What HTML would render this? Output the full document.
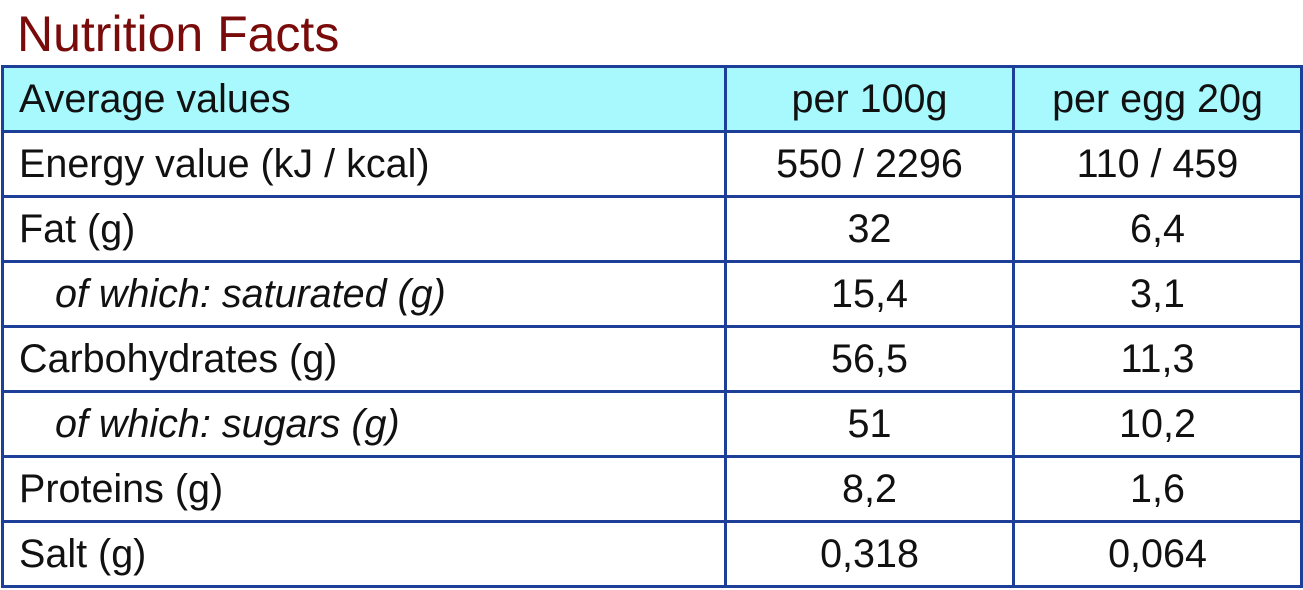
<!DOCTYPE html>
<html><head><meta charset="utf-8">
<style>
html,body{margin:0;padding:0;background:#fff;width:1303px;height:590px;overflow:hidden}
#title{position:absolute;left:17px;top:4px;font:50px "Liberation Sans",sans-serif;color:#7a0b0b;margin:0;line-height:60px;font-weight:normal}
table{position:absolute;left:1px;top:65px;border-collapse:collapse;table-layout:fixed;width:1299px;font-family:"Liberation Sans",sans-serif;font-size:39.5px;color:#111}
td{border:3px solid #1e3f98;height:62px;padding:0;line-height:62px;white-space:nowrap}
td.l{padding-left:15px;text-align:left}
td.c1{text-align:center}
td.c2{text-align:center}
tr.h td{background:#a7f9fd}
td.i{font-style:italic;padding-left:51px}
</style></head><body>
<h1 id="title">Nutrition Facts</h1>
<table>
<colgroup><col style="width:723px"><col style="width:288px"><col style="width:288px"></colgroup>
<tr class="h"><td class="l">Average values</td><td class="c1">per 100g</td><td class="c2">per egg 20g</td></tr>
<tr><td class="l">Energy value (kJ / kcal)</td><td class="c1">550 / 2296</td><td class="c2">110 / 459</td></tr>
<tr><td class="l">Fat (g)</td><td class="c1">32</td><td class="c2">6,4</td></tr>
<tr><td class="l i">of which: saturated (g)</td><td class="c1">15,4</td><td class="c2">3,1</td></tr>
<tr><td class="l">Carbohydrates (g)</td><td class="c1">56,5</td><td class="c2">11,3</td></tr>
<tr><td class="l i">of which: sugars (g)</td><td class="c1">51</td><td class="c2">10,2</td></tr>
<tr><td class="l">Proteins (g)</td><td class="c1">8,2</td><td class="c2">1,6</td></tr>
<tr><td class="l">Salt (g)</td><td class="c1">0,318</td><td class="c2">0,064</td></tr>
</table>
</body></html>
